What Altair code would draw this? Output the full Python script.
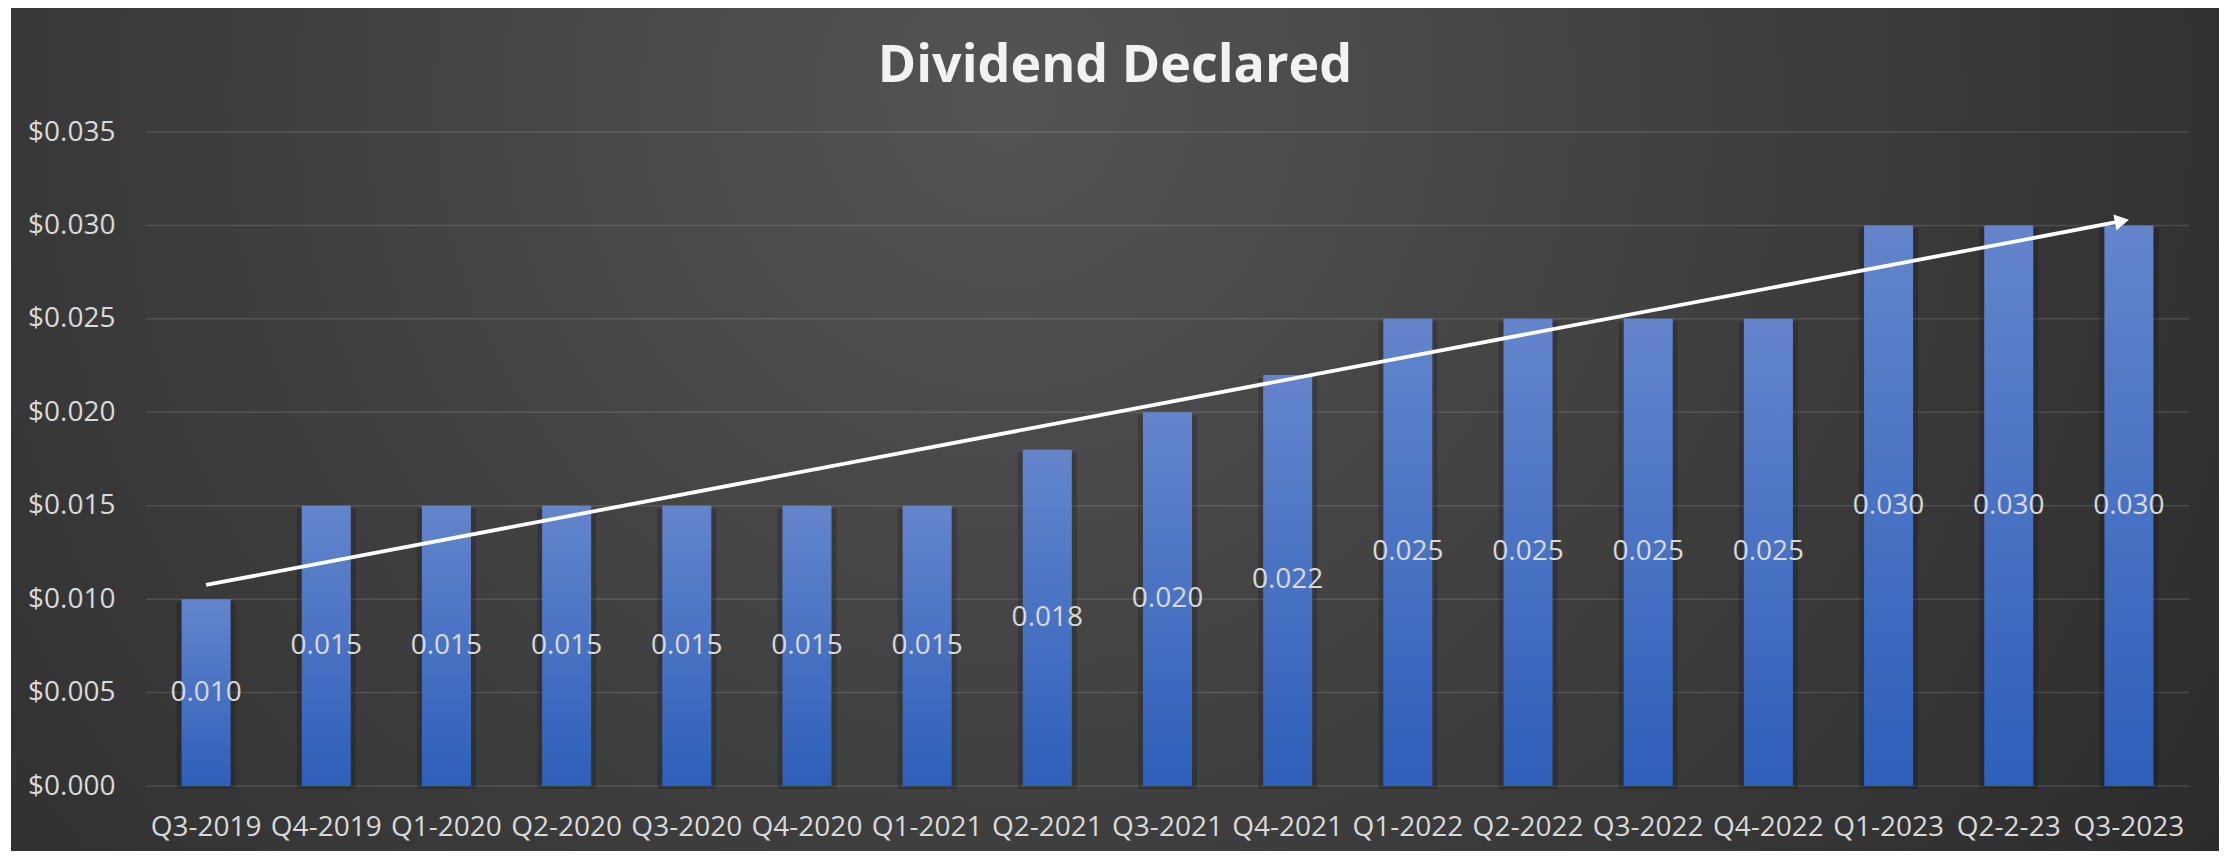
import altair as alt
import pandas as pd

# ---- data ----
quarters = ["Q3-2019", "Q4-2019", "Q1-2020", "Q2-2020", "Q3-2020", "Q4-2020",
            "Q1-2021", "Q2-2021", "Q3-2021", "Q4-2021", "Q1-2022", "Q2-2022",
            "Q3-2022", "Q4-2022", "Q1-2023", "Q2-2-23", "Q3-2023"]
dividends = [0.010, 0.015, 0.015, 0.015, 0.015, 0.015, 0.015, 0.018, 0.020,
             0.022, 0.025, 0.025, 0.025, 0.025, 0.030, 0.030, 0.030]
y_ticks = [0.000, 0.005, 0.010, 0.015, 0.020, 0.025, 0.030, 0.035]

# trend arrow (annotation): start / end in data terms
arrow_x0 = ["Q3-2019"]
arrow_x1 = ["Q3-2023"]
arrow_y0 = [0.01076]
arrow_y1 = [0.0303]

df = pd.DataFrame({"quarter": quarters, "value": dividends})
grid_df = pd.DataFrame({"tick": y_ticks})
arrow_df = pd.DataFrame({"x0": arrow_x0, "x1": arrow_x1, "y0": arrow_y0, "y1": arrow_y1})

W = 2043
H = 654
FONT = "Open Sans"
LABEL = "#d9d9d9"

x_scale = alt.Scale(domain=quarters, paddingInner=0.592, paddingOuter=0.296)
y_scale = alt.Scale(domain=[0, 0.035], nice=False)

x_axis = alt.Axis(labelAngle=0, labelFont=FONT, labelFontSize=28, labelColor=LABEL,
                  labelPadding=27, ticks=False, tickSize=0, domain=False, grid=False,
                  labelOverlap=False, labelLimit=400, title=None, zindex=1)
y_axis = alt.Axis(values=y_ticks, format="$.3f", labelFont=FONT, labelFontSize=28,
                  labelColor=LABEL, labelPadding=31, ticks=False, tickSize=0,
                  domain=False, grid=False, title=None, zindex=1)

# background panel with radial gradient (whole chart)
bg = alt.Chart(pd.DataFrame({"k": [0]})).mark_rect(
    fill=alt.RadialGradient(
        gradient="radial",
        stops=[alt.GradientStop(color="#545454", offset=0),
               alt.GradientStop(color="#3c3c3c", offset=0.5),
               alt.GradientStop(color="#262626", offset=1)],
        x1=0.45, y1=0.35, r1=0, x2=0.45, y2=0.35, r2=0.75),
    clip=False,
).encode(
    x=alt.value(-135), x2=alt.value(W + 30),
    y=alt.value(-124), y2=alt.value(H + 65),
)

# horizontal gridlines
grid = alt.Chart(grid_df).mark_rule(color="white", opacity=0.12, strokeWidth=1.5).encode(
    y=alt.Y("tick:Q", scale=y_scale, axis=y_axis),
)

base = alt.Chart(df)

shadow = base.mark_bar(color="black", opacity=0.18, size=59, yOffset=3).encode(
    x=alt.X("quarter:N", scale=x_scale, axis=x_axis),
    y=alt.Y("value:Q", scale=y_scale, axis=y_axis),
)

bars = base.mark_bar(
    fill=alt.LinearGradient(
        gradient="linear",
        stops=[alt.GradientStop(color="#6385cc", offset=0),
               alt.GradientStop(color="#2e5fba", offset=1)],
        x1=0, x2=0, y1=0, y2=1),
).encode(
    x=alt.X("quarter:N", scale=x_scale, axis=x_axis),
    y=alt.Y("value:Q", scale=y_scale, axis=y_axis),
)

labels = base.transform_calculate(half="datum.value / 2").mark_text(
    font=FONT, fontSize=28, color=LABEL, baseline="middle", align="center"
).encode(
    x=alt.X("quarter:N", scale=x_scale),
    y=alt.Y("half:Q", scale=y_scale),
    text=alt.Text("value:Q", format=".3f"),
)

arrow_line = alt.Chart(arrow_df).mark_rule(
    color="white", strokeWidth=3.8, x2Offset=-10, y2Offset=1.9
).encode(
    x=alt.X("x0:N", scale=x_scale), x2="x1",
    y=alt.Y("y0:Q", scale=y_scale), y2="y1",
)

arrow_head = alt.Chart(arrow_df).mark_point(
    shape="triangle-right", filled=True, color="white", opacity=1, size=270,
    angle=349.26, xOffset=-7, yOffset=1.3
).encode(
    x=alt.X("x1:N", scale=x_scale),
    y=alt.Y("y1:Q", scale=y_scale),
)

chart = alt.layer(bg, grid, shadow, bars, labels, arrow_line, arrow_head).properties(
    width=W, height=H,
    padding={"left": 3, "top": 0, "right": 0, "bottom": 0},
    title=alt.TitleParams("Dividend Declared", font=FONT, fontSize=52,
                          fontWeight="bold", color="#f2f2f2", anchor="middle",
                          frame="bounds", offset=-85),
).configure(background="white").configure_view(stroke=None)

chart.save("out.html", embed_options={"renderer": "svg", "actions": False})
